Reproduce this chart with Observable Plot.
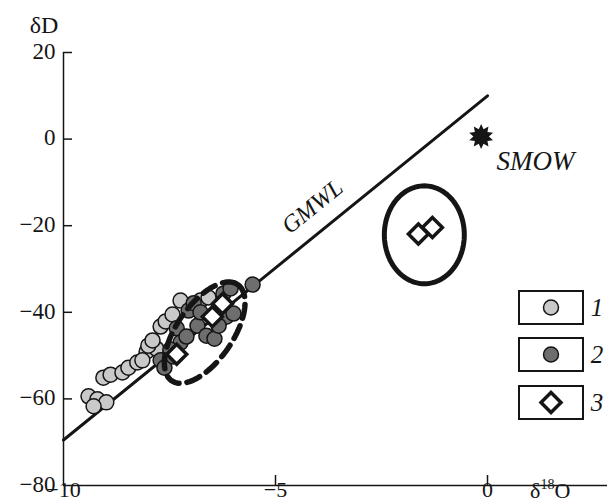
<!DOCTYPE html>
<html><head><meta charset="utf-8">
<script src="https://cdn.jsdelivr.net/npm/d3@7"></script>
<script src="https://cdn.jsdelivr.net/npm/@observablehq/plot@0.6"></script>
<style>body{margin:0;background:#fff} svg{display:block} svg, svg text{font-family:"Liberation Serif","Times New Roman","DejaVu Serif",serif !important;}</style>
</head><body><div id="chart"></div>
<script>
// ---- data ----
const xTicks = [-10, -5, 0];
const yTicks = [-80, -60, -40, -20, 0, 20];
const gmwlX = [-10, 0];
const gmwlY = [-69.5, 10];

// group 1 (light circles)
const light18O = [-9.41,-9.20,-8.99,-9.29,-9.06,-8.89,-8.61,-8.47,-8.26,-8.04,-7.81,-8.14,-7.71,-7.59,-7.43,-7.24,-6.77,-6.58,-8.00,-7.90];
const lightD   = [-59.4,-60.1,-60.8,-61.7,-55.1,-54.4,-53.9,-52.8,-51.6,-49.1,-48.4,-51.1,-43.3,-42.1,-40.5,-37.3,-37.3,-36.6,-47.7,-46.5];
// group 2 (dark circles)
const dark18O = [-7.71,-7.62,-7.41,-7.33,-7.24,-7.05,-6.93,-6.84,-6.63,-6.44,-6.23,-6.06,-6.16,-5.99,-5.54,-7.10,-6.77,-7.48,-6.34];
const darkD   = [-51.1,-52.8,-50.2,-43.7,-47.0,-39.6,-37.9,-43.1,-45.4,-46.1,-35.7,-34.5,-41.0,-40.3,-33.6,-45.6,-40.0,-48.6,-43.1];
// group 3 (open diamonds)
const open18O = [-7.33,-6.49,-6.25,-1.63,-1.30];
const openD   = [-49.7,-41.0,-38.0,-21.9,-20.4];
// SMOW
const smow18O = [-0.15];
const smowD = [0.6];
// ellipses: center and two semi-axis vectors in data units
const solidEllipse = {cx: -1.49, cy: -22.1, ux: 0.943, uy: 0, vx: 0, vy: 11.3};
const dashEllipse  = {cx: -6.67, cy: -44.7, ux: 0.78, uy: 11.1, vx: 0.545, vy: -3.67};
const legendLabels = ["1", "2", "3"];

// ---- build ----
const toPts = (xs, ys) => xs.map((x, i) => ({x, y: ys[i]}));
const light = toPts(light18O, lightD);
const dark = toPts(dark18O, darkD);
const open = toPts(open18O, openD);
const gmwl = toPts(gmwlX, gmwlY);
const smow = toPts(smow18O, smowD);
function ellipsePts(e) {
  return d3.range(0, 121).map(k => {
    const t = k / 120 * 2 * Math.PI;
    return {x: e.cx + e.ux * Math.cos(t) + e.vx * Math.sin(t),
            y: e.cy + e.uy * Math.cos(t) + e.vy * Math.sin(t)};
  });
}
const star10 = {
  draw(ctx, size) {
    const R = Math.sqrt(size / Math.PI), r = R * 0.62, n = 10;
    for (let i = 0; i < 2 * n; i++) {
      const a = -Math.PI / 2 + i * Math.PI / n;
      const rr = i % 2 === 0 ? R : r;
      const px = rr * Math.cos(a), py = rr * Math.sin(a);
      if (i === 0) ctx.moveTo(px, py); else ctx.lineTo(px, py);
    }
    ctx.closePath();
  }
};

const W = 607, H = 504, mL = 63, mT = 52, mB = 19, mR = 0;
const frameW = W - mL - mR, frameH = H - mT - mB;
const ink = "#151515";
const fam = '"Liberation Serif", "Times New Roman", "DejaVu Serif", serif';

const chart = Plot.plot({
  width: W, height: H,
  marginLeft: mL, marginTop: mT, marginBottom: mB, marginRight: mR,
  x: {domain: [-10, 2.83], label: null},
  y: {domain: [-80, 20], label: null},
  style: {fontFamily: fam, fontSize: "23px", background: "white", color: ink},
  marks: [
    Plot.axisY({ticks: yTicks, tickSize: 0, tickPadding: 8, fontSize: 23, label: null, dy: -1}),
    Plot.axisX({ticks: xTicks, tickSize: 0, tickPadding: 0, fontSize: 22, label: null, dy: -4}),
    Plot.tickY(yTicks.filter(d => d > -80), {y: d => d, insetRight: frameW - 9, stroke: ink, strokeWidth: 1.5}),
    Plot.tickX(xTicks.filter(d => d > -10), {x: d => d, insetTop: frameH - 10, stroke: ink, strokeWidth: 1.5}),
    Plot.ruleX([-10], {stroke: ink, strokeWidth: 1.5}),
    Plot.ruleY([-80], {stroke: ink, strokeWidth: 1.5}),
    Plot.line(gmwl, {x: "x", y: "y", stroke: ink, strokeWidth: 3}),
    Plot.line(ellipsePts(solidEllipse), {x: "x", y: "y", stroke: ink, strokeWidth: 5}),
    Plot.dot(light, {x: "x", y: "y", r: 7.5, fill: "#c9c9c9", stroke: ink, strokeWidth: 1.5}),
    Plot.dot(dark, {x: "x", y: "y", r: 7.5, fill: "#6e6e6e", stroke: ink, strokeWidth: 1.5}),
    Plot.line(ellipsePts(dashEllipse), {x: "x", y: "y", stroke: ink, strokeWidth: 5.5, strokeDasharray: "14,8"}),
    Plot.dot(open, {x: "x", y: "y", r: 9, symbol: "diamond2", fill: "white", stroke: ink, strokeWidth: 3.5}),
    Plot.dot(smow, {x: "x", y: "y", r: 12.5, symbol: star10, fill: ink, stroke: "none"}),
    Plot.text(["SMOW"], {x: [1.13], y: [-5.2], text: d => d, fontStyle: "italic", fontSize: 27, fill: ink, textAnchor: "middle"}),
    Plot.text(["GMWL"], {x: [-4.13], y: [-15.6], text: d => d, fontStyle: "italic", fontSize: 24, fill: ink, textAnchor: "middle", rotate: -39})
  ]
});
document.getElementById("chart").appendChild(chart);

// axis titles and legend
const svg = d3.select(chart);
svg.append("text").attr("x", 44).attr("y", 25).attr("dy", "0.35em").attr("text-anchor", "middle")
  .attr("font-family", fam).attr("font-size", 24).attr("fill", ink).text("δD");
const xl = svg.append("text").attr("x", 530).attr("y", 498).attr("text-anchor", "start")
  .attr("font-family", fam).attr("font-size", 22).attr("fill", ink);
xl.append("tspan").text("δ");
xl.append("tspan").attr("dy", -9).attr("font-size", 14).text("18");
xl.append("tspan").attr("dy", 9).text("O");

const lg = svg.append("g");
const boxY = [291, 338, 386];
legendLabels.forEach((lab, i) => {
  const y0 = boxY[i], cy = y0 + 16.5;
  lg.append("rect").attr("x", 519).attr("y", y0).attr("width", 64).attr("height", 33)
    .attr("fill", "white").attr("stroke", ink).attr("stroke-width", 2);
  if (i === 0) lg.append("circle").attr("cx", 551).attr("cy", cy).attr("r", 7.5).attr("fill", "#c9c9c9").attr("stroke", ink).attr("stroke-width", 1.5);
  if (i === 1) lg.append("circle").attr("cx", 551).attr("cy", cy).attr("r", 7.5).attr("fill", "#6e6e6e").attr("stroke", ink).attr("stroke-width", 1.5);
  if (i === 2) lg.append("path").attr("d", d3.symbol(d3.symbolDiamond2, 81 * Math.PI)()).attr("transform", `translate(551,${cy})`)
    .attr("fill", "white").attr("stroke", ink).attr("stroke-width", 3.5);
  lg.append("text").attr("x", 597).attr("y", cy).attr("dy", "0.35em").attr("text-anchor", "middle")
    .attr("font-family", fam).attr("font-style", "italic").attr("font-size", 25).attr("fill", ink).text(lab);
});
</script>
</body></html>
